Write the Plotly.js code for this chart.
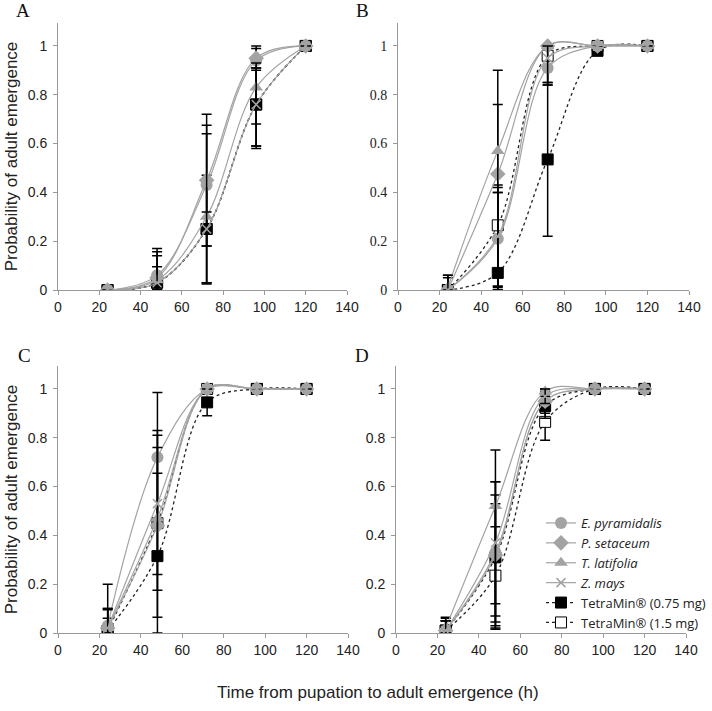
<!DOCTYPE html>
<html>
<head>
<meta charset="utf-8">
<script src="https://cdn.plot.ly/plotly-3.0.1.min.js"></script>
<style>html,body{margin:0;padding:0;background:#fff;}#chart{width:712px;height:711px;}</style>
</head>
<body>
<div id="chart"></div>
<script>
// ---- Data ----
const hours = [24, 48, 72, 96, 120];
const seriesNames = ["<i>E. pyramidalis</i>", "<i>P. setaceum</i>", "<i>T. latifolia</i>", "<i>Z. mays</i>", "TetraMin® (0.75 mg)", "TetraMin® (1.5 mg)"];
const panelLabels = ["A", "B", "C", "D"];
const xTickVals = [0, 20, 40, 60, 80, 100, 120, 140];
const yTickVals = [0, 0.2, 0.4, 0.6, 0.8, 1];
const yTickText = ["0", "0.2", "0.4", "0.6", "0.8", "1"];
const yTitle = "Probability of adult emergence";
const xTitle = "Time from pupation to adult emergence (h)";

// Panel A
const A_Epyr = [0, 0.06, 0.43, 0.94, 1];   const A_Epyr_plus = [0, 0.11, 0.29, 0.06, 0];  const A_Epyr_minus = [0, 0.06, 0.25, 0.26, 0];
const A_Pset = [0, 0.05, 0.45, 0.95, 1];   const A_Pset_plus = [0, 0.107, 0.225, 0.04, 0]; const A_Pset_minus = [0, 0.05, 0.42, 0.04, 0];
const A_Tlat = [0, 0.04, 0.30, 0.83, 1];   const A_Tlat_plus = [0, 0.10, 0.34, 0.10, 0];  const A_Tlat_minus = [0, 0.04, 0.275, 0.24, 0];
const A_Zmay = [0, 0.03, 0.25, 0.76, 1];   const A_Zmay_plus = [0, 0.065, 0.07, 0.15, 0]; const A_Zmay_minus = [0, 0.03, 0.07, 0.18, 0];
const A_T075 = [0, 0.03, 0.25, 0.76, 1];   const A_T075_plus = [0, 0.03, 0.22, 0.14, 0];  const A_T075_minus = [0, 0.03, 0.22, 0.17, 0];
const A_T15  = [0, 0.03, 0.25, 0.76, 1];   const A_T15_plus  = [0, 0, 0, 0, 0];           const A_T15_minus  = [0, 0, 0, 0, 0];

// Panel B
const B_Epyr = [0, 0.21, 0.91, 1, 1];      const B_Epyr_plus = [0.05, 0.22, 0.09, 0, 0];  const B_Epyr_minus = [0, 0.20, 0.07, 0, 0];
const B_Pset = [0, 0.475, 1.0, 1, 1];      const B_Pset_plus = [0, 0.285, 0, 0, 0];       const B_Pset_minus = [0, 0.475, 0, 0, 0];
const B_Tlat = [0.01, 0.57, 1.0, 1, 1];    const B_Tlat_plus = [0.05, 0.33, 0, 0, 0];     const B_Tlat_minus = [0.01, 0.57, 0, 0, 0];
const B_Zmay = [0, 0.22, 0.95, 1, 1];      const B_Zmay_plus = [0.06, 0.20, 0.05, 0, 0];  const B_Zmay_minus = [0, 0.22, 0.10, 0, 0];
const B_T075 = [0, 0.07, 0.535, 0.98, 1];  const B_T075_plus = [0, 0.33, 0.315, 0, 0];    const B_T075_minus = [0, 0.055, 0.315, 0, 0];
const B_T15  = [0, 0.265, 0.96, 1, 1];     const B_T15_plus  = [0, 0.135, 0.04, 0, 0];    const B_T15_minus  = [0, 0.25, 0.12, 0, 0];

// Panel C
const C_Epyr = [0.03, 0.72, 1.0, 1, 1];    const C_Epyr_plus = [0.17, 0.265, 0, 0, 0];    const C_Epyr_minus = [0.03, 0.265, 0, 0, 0];
const C_Pset = [0.02, 0.44, 1.0, 1, 1];    const C_Pset_plus = [0.08, 0.37, 0, 0, 0];     const C_Pset_minus = [0.02, 0.375, 0, 0, 0];
const C_Tlat = [0.02, 0.47, 1.0, 1, 1];    const C_Tlat_plus = [0.075, 0.29, 0, 0, 0];    const C_Tlat_minus = [0.02, 0.295, 0, 0, 0];
const C_Zmay = [0.02, 0.53, 1.0, 1, 1];    const C_Zmay_plus = [0.08, 0.30, 0, 0, 0];     const C_Zmay_minus = [0.02, 0.29, 0, 0, 0];
const C_T075 = [0.01, 0.315, 0.945, 1, 1]; const C_T075_plus = [0.05, 0.34, 0.055, 0, 0]; const C_T075_minus = [0.01, 0.315, 0.055, 0, 0];
const C_T15  = [0.01, 0.45, 1.0, 1, 1];    const C_T15_plus  = [0, 0, 0, 0, 0];           const C_T15_minus  = [0, 0, 0, 0, 0];

// Panel D
const D_Epyr = [0.01, 0.33, 0.95, 1, 1];   const D_Epyr_plus = [0.05, 0.29, 0.04, 0, 0];  const D_Epyr_minus = [0.01, 0.285, 0.04, 0, 0];
const D_Pset = [0.01, 0.32, 0.95, 1, 1];   const D_Pset_plus = [0.04, 0.245, 0.04, 0, 0]; const D_Pset_minus = [0.01, 0.25, 0.05, 0, 0];
const D_Tlat = [0.02, 0.52, 0.99, 1, 1];   const D_Tlat_plus = [0.045, 0.23, 0.01, 0, 0]; const D_Tlat_minus = [0.02, 0.49, 0.02, 0, 0];
const D_Zmay = [0.01, 0.37, 0.97, 1, 1];   const D_Zmay_plus = [0.04, 0.25, 0.03, 0, 0];  const D_Zmay_minus = [0.01, 0.25, 0.03, 0, 0];
const D_T075 = [0.01, 0.31, 0.93, 1, 1];   const D_T075_plus = [0.04, 0.22, 0.05, 0, 0];  const D_T075_minus = [0.01, 0.295, 0.05, 0, 0];
const D_T15  = [0.01, 0.235, 0.865, 1, 1]; const D_T15_plus  = [0.04, 0.20, 0.075, 0, 0]; const D_T15_minus  = [0.01, 0.215, 0.075, 0, 0];

// ---- Build ----
const panels = [
  [[A_Epyr, A_Epyr_plus, A_Epyr_minus], [A_Pset, A_Pset_plus, A_Pset_minus], [A_Tlat, A_Tlat_plus, A_Tlat_minus], [A_Zmay, A_Zmay_plus, A_Zmay_minus], [A_T075, A_T075_plus, A_T075_minus], [A_T15, A_T15_plus, A_T15_minus]],
  [[B_Epyr, B_Epyr_plus, B_Epyr_minus], [B_Pset, B_Pset_plus, B_Pset_minus], [B_Tlat, B_Tlat_plus, B_Tlat_minus], [B_Zmay, B_Zmay_plus, B_Zmay_minus], [B_T075, B_T075_plus, B_T075_minus], [B_T15, B_T15_plus, B_T15_minus]],
  [[C_Epyr, C_Epyr_plus, C_Epyr_minus], [C_Pset, C_Pset_plus, C_Pset_minus], [C_Tlat, C_Tlat_plus, C_Tlat_minus], [C_Zmay, C_Zmay_plus, C_Zmay_minus], [C_T075, C_T075_plus, C_T075_minus], [C_T15, C_T15_plus, C_T15_minus]],
  [[D_Epyr, D_Epyr_plus, D_Epyr_minus], [D_Pset, D_Pset_plus, D_Pset_minus], [D_Tlat, D_Tlat_plus, D_Tlat_minus], [D_Zmay, D_Zmay_plus, D_Zmay_minus], [D_T075, D_T075_plus, D_T075_minus], [D_T15, D_T15_plus, D_T15_minus]]
];

const GRAY = "#a3a3a3";
const styles = [
  {marker: {symbol: "circle", size: 12, color: GRAY}, line: {color: GRAY, width: 1.2, shape: "spline", smoothing: 1}},
  {marker: {symbol: "diamond", size: 12, color: GRAY}, line: {color: GRAY, width: 1.2, shape: "spline", smoothing: 1}},
  {marker: {symbol: "triangle-up", size: 12, color: GRAY}, line: {color: GRAY, width: 1.2, shape: "spline", smoothing: 1}},
  {marker: {symbol: "x-thin", size: 9, color: GRAY, line: {color: GRAY, width: 1.5}}, line: {color: GRAY, width: 1.2, shape: "spline", smoothing: 1}},
  {marker: {symbol: "square", size: 11, color: "#000", line: {color: "#000", width: 1}}, line: {color: "#222", width: 1.3, dash: "dot", shape: "spline", smoothing: 1}},
  {marker: {symbol: "square", size: 11, color: "#fff", line: {color: "#000", width: 1}}, line: {color: "#222", width: 1.3, dash: "dot", shape: "spline", smoothing: 1}}
];
// drawing order: TetraMin traces underneath, species on top
const drawOrder = [5, 4, 0, 1, 2, 3];

const traces = [];
panels.forEach((panel, p) => {
  const sfx = p === 0 ? "" : String(p + 1);
  drawOrder.forEach(s => {
    const [vals, plus, minus] = panel[s];
    traces.push({
      type: "scatter", mode: "lines+markers",
      x: hours, y: vals,
      xaxis: "x" + sfx, yaxis: "y" + sfx,
      name: seriesNames[s],
      legendrank: s + 1,
      showlegend: p === 3,
      marker: styles[s].marker,
      line: styles[s].line,
      error_y: {type: "data", symmetric: false, array: plus, arrayminus: minus, color: "#000", thickness: 1.5, width: 5}
    });
  });
});

// domains in pixels -> paper
const W = 712, H = 711;
const boxes = [
  {x0: 58, x1: 347, y0: 290, y1: 23},
  {x0: 398, x1: 689, y0: 290, y1: 23},
  {x0: 58, x1: 348, y0: 633, y1: 366},
  {x0: 396, x1: 686, y0: 633, y1: 366}
];
const layout = {
  width: W, height: H,
  margin: {l: 0, r: 0, t: 0, b: 0},
  paper_bgcolor: "#fff", plot_bgcolor: "#fff",
  font: {family: "Liberation Sans, Arial, sans-serif", size: 14, color: "#222"},
  showlegend: true,
  legend: {
    x: 541 / W, y: 1 - 508 / H, xanchor: "left", yanchor: "top",
    bgcolor: "rgba(255,255,255,0)", traceorder: "normal",
    font: {family: "Open Sans, sans-serif", size: 13, color: "#222"},
    tracegroupgap: 0, itemwidth: 30
  },
  annotations: [],
  hovermode: false
};
boxes.forEach((b, i) => {
  const sfx = i === 0 ? "" : String(i + 1);
  layout["xaxis" + sfx] = {
    domain: [b.x0 / W, b.x1 / W], anchor: "y" + sfx,
    range: [0, 140], tickvals: xTickVals, ticks: "outside", ticklen: 4, tickcolor: "#999",
    showline: true, linecolor: "#999", linewidth: 1, showgrid: false, zeroline: false,
    tickfont: {family: "Liberation Sans, Arial, sans-serif", size: 14, color: "#222"}
  };
  layout["yaxis" + sfx] = {
    domain: [1 - b.y0 / H, 1 - b.y1 / H], anchor: "x" + sfx,
    range: [0, 1.094], tickvals: yTickVals, ticktext: yTickText, ticks: "outside", ticklen: 4, tickcolor: "#999",
    showline: true, linecolor: "#999", linewidth: 1, showgrid: false, zeroline: false,
    ticklabelstandoff: 3,
    tickfont: {family: i === 1 ? "Liberation Serif, Times New Roman, serif" : "Liberation Sans, Arial, sans-serif", size: 14, color: "#222"}
  };
  if (i === 0 || i === 2) {
    layout["yaxis" + sfx].title = {text: yTitle, font: {family: "Liberation Sans, Arial, sans-serif", size: 17, color: "#222"}, standoff: 5};
  }
});
const letterPos = [[23, 11], [362, 11], [24, 355], [362, 355]];
panelLabels.forEach((t, i) => {
  layout.annotations.push({text: t, xref: "paper", yref: "paper", x: letterPos[i][0] / W, y: 1 - letterPos[i][1] / H,
    xanchor: "center", yanchor: "middle", showarrow: false, font: {family: "Liberation Serif, Times New Roman, serif", size: 19, color: "#111"}});
});
layout.annotations.push({text: xTitle, xref: "paper", yref: "paper", x: 378 / W, y: 1 - 692 / H,
  xanchor: "center", yanchor: "middle", showarrow: false, font: {family: "Liberation Sans, Arial, sans-serif", size: 17, color: "#222"}});

Plotly.newPlot("chart", traces, layout, {displayModeBar: false, staticPlot: true});
</script>
</body>
</html>
